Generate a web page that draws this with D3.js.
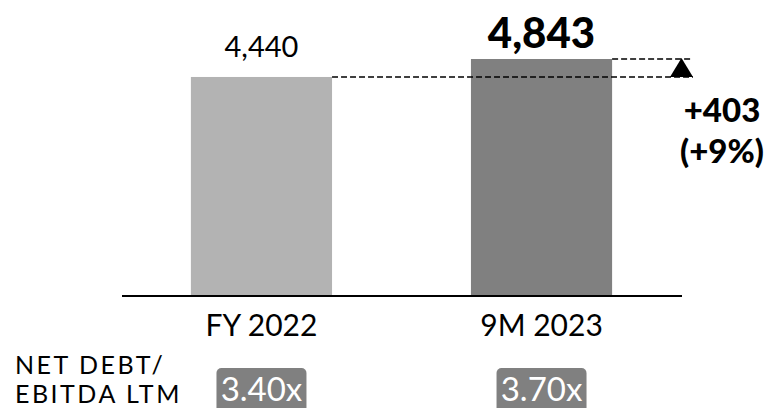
<!DOCTYPE html>
<meta charset="utf-8">
<style>
body { margin: 0; background: #fff; }
text { font-family: Lato, "Open Sans", sans-serif; fill: #000; }
</style>
<svg width="776" height="408"></svg>
<script src="https://d3js.org/d3.v7.min.js"></script>
<script>

var categories = ["FY 2022", "9M 2023"],
    values = [4440, 4843],
    ratios = ["3.40x", "3.70x"],
    deltaLabels = ["+403", "(+9%)"],
    yDomain = [-470, 4843],
    rowLabel = ["NET DEBT/", "EBITDA LTM"];

var svg = d3.select("svg"),
    format = d3.format(",d");

var x = d3.scaleBand()
    .domain(categories)
    .range([122, 681])
    .paddingInner(0.496)
    .paddingOuter(0.246);

var y = d3.scaleLinear()
    .domain(yDomain)
    .range([296, 59]);

var colors = ["#b3b3b3", "#808080"];

svg.selectAll("rect.bar")
    .data(values)
  .enter().append("rect")
    .attr("class", "bar")
    .attr("x", function(d, i) { return x(categories[i]); })
    .attr("width", x.bandwidth())
    .attr("y", function(d) { return y(d); })
    .attr("height", function(d) { return y(yDomain[0]) - y(d); })
    .attr("fill", function(d, i) { return colors[i]; });

// axis baseline
svg.append("line")
    .attr("x1", 122).attr("x2", 682)
    .attr("y1", y(yDomain[0])).attr("y2", y(yDomain[0]))
    .attr("stroke", "#000").attr("stroke-width", 2);

// value labels
svg.selectAll("text.val")
    .data(values)
  .enter().append("text")
    .attr("class", "val")
    .attr("x", function(d, i) { return x(categories[i]) + x.bandwidth() / 2; })
    .attr("y", function(d, i) { return i ? y(d) - 11 : y(d) - 20; })
    .attr("text-anchor", "middle")
    .style("font-size", function(d, i) { return i ? "42px" : "29px"; })
    .style("font-weight", function(d, i) { return i ? 900 : 400; })
    .text(function(d) { return format(d); });

// category labels
svg.selectAll("text.cat")
    .data(categories)
  .enter().append("text")
    .attr("class", "cat")
    .attr("x", function(d) { return x(d) + x.bandwidth() / 2; })
    .attr("y", 336)
    .attr("text-anchor", "middle")
    .style("font-size", "30px")
    .text(function(d) { return d; });

// dashed reference lines
var xEnd = 693;
svg.append("line")
    .attr("x1", x(categories[0]) + x.bandwidth()).attr("x2", xEnd)
    .attr("y1", y(values[0])).attr("y2", y(values[0]))
    .attr("stroke", "#000").attr("stroke-width", 1.5)
    .attr("stroke-dasharray", "6,3");
svg.append("line")
    .attr("x1", x(categories[1]) + x.bandwidth()).attr("x2", xEnd)
    .attr("y1", y(values[1])).attr("y2", y(values[1]))
    .attr("stroke", "#000").attr("stroke-width", 1.5)
    .attr("stroke-dasharray", "6,3");

// arrow head
var ax = 681.5;
svg.append("path")
    .attr("d", "M" + (ax - 11.5) + "," + y(values[0]) +
               "L" + (ax + 11.5) + "," + y(values[0]) +
               "L" + ax + "," + (y(values[1]) - 1) + "Z")
    .attr("fill", "#000");

// delta labels
svg.selectAll("text.delta")
    .data(deltaLabels)
  .enter().append("text")
    .attr("class", "delta")
    .attr("x", 722)
    .attr("y", function(d, i) { return 122 + i * 41; })
    .attr("text-anchor", "middle")
    .style("font-size", "33px")
    .style("font-weight", 900)
    .text(function(d) { return d; });

// row label
svg.selectAll("text.row")
    .data(rowLabel)
  .enter().append("text")
    .attr("class", "row")
    .attr("x", 15)
    .attr("y", function(d, i) { return 374 + i * 29; })
    .style("font-size", "25px")
    .style("letter-spacing", "2.5px")
    .text(function(d) { return d; });

// ratio badges
var badge = svg.selectAll("g.badge")
    .data(ratios)
  .enter().append("g")
    .attr("class", "badge")
    .attr("transform", function(d, i) {
      return "translate(" + (x(categories[i]) + x.bandwidth() / 2) + ",368)";
    });

badge.append("rect")
    .attr("x", -45).attr("width", 90)
    .attr("y", 0).attr("height", 50)
    .attr("rx", 5)
    .attr("fill", "#808080");

badge.append("text")
    .attr("x", 0).attr("y", 33)
    .attr("text-anchor", "middle")
    .style("font-size", "33px")
    .style("fill", "#fff")
    .text(function(d) { return d; });

</script>
